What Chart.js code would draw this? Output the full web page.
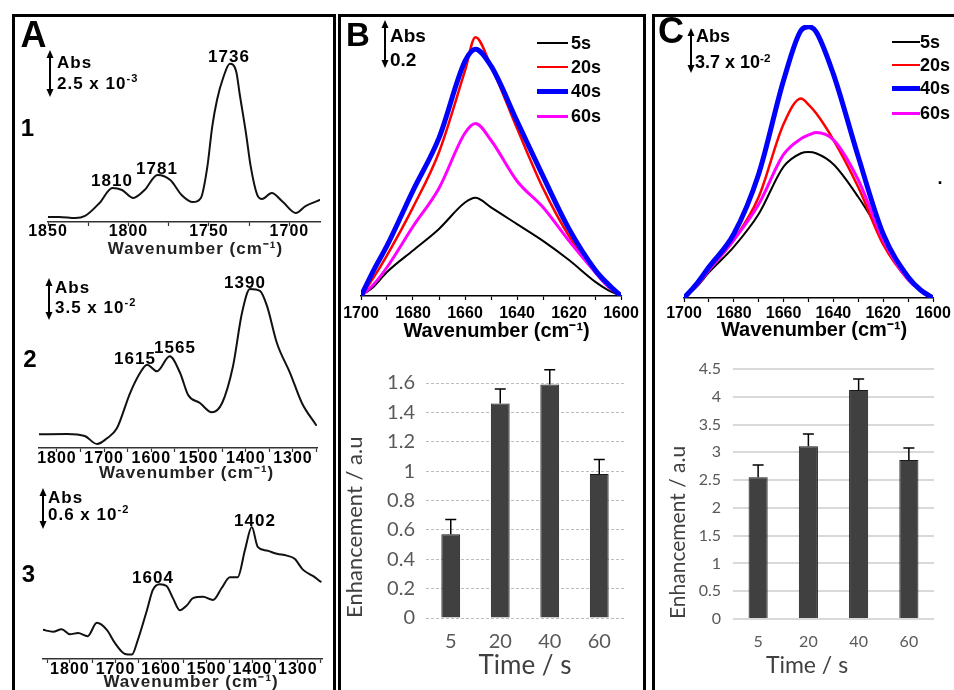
<!DOCTYPE html>
<html>
<head>
<meta charset="utf-8">
<title>IR spectra and enhancement</title>
<script src="https://cdn.jsdelivr.net/npm/chart.js@4.4.1/dist/chart.umd.min.js"></script>
<style>
  html, body { margin: 0; padding: 0; background: #fff; }
  #fig { position: relative; width: 954px; height: 690px; overflow: hidden; font-family: Arial, "Liberation Sans", sans-serif; color: #000; }
  .box { position: absolute; }
  .lbl { position: absolute; font-weight: bold; white-space: nowrap; line-height: 1; }
  .lbl sup { font-size: 0.65em; vertical-align: 0.55em; line-height: 0; }
  #ink { position: absolute; left: 0; top: 0; z-index: 2; }
</style>
</head>
<body>
<div id="fig">
  <svg id="ink" width="954" height="690"></svg>
</div>
<script>
// ---------- data ----------
// Panel A, spectrum 1 (Abs, 10^-3)
const a1Wavenumber = [1850, 1843, 1833, 1827, 1818, 1810, 1804, 1797, 1790, 1782, 1774, 1767, 1760, 1755, 1751,
  1748, 1745, 1741, 1737, 1733, 1731, 1727, 1724, 1720, 1717, 1711, 1704, 1696, 1690, 1681];
const a1Abs = [0.27, 0.27, 0.21, 0.32, 1.01, 1.81, 1.70, 1.28, 1.70, 2.50, 2.23, 1.44, 1.06, 1.28, 2.93,
  5.05, 6.49, 7.71, 8.41, 7.98, 6.86, 4.73, 2.93, 1.44, 1.22, 1.54, 1.06, 0.48, 0.85, 1.17];

// Panel A, spectrum 2 (Abs, 10^-2)
const a2Wavenumber = [1838, 1779, 1741, 1715, 1694, 1673, 1645, 1624, 1609, 1588, 1561, 1539, 1522, 1497, 1472,
  1450, 1427, 1408, 1391, 1370, 1355, 1334, 1306, 1281, 1251];
const a2Abs = [1.20, 1.23, 1.05, 0.35, 0.85, 1.72, 4.81, 6.56, 7.29, 6.71, 8.02, 6.56, 4.64, 3.94, 3.12,
  3.94, 7.15, 11.81, 13.91, 13.74, 12.43, 9.19, 6.56, 3.94, 2.01];

// Panel A, spectrum 3 (Abs, 10^-2)
const a3Wavenumber = [1859, 1837, 1818, 1800, 1782, 1761, 1741, 1719, 1701, 1679, 1664, 1651, 1631, 1618, 1603,
  1588, 1574, 1559, 1543, 1530, 1508, 1486, 1467, 1449, 1432, 1416, 1401, 1388, 1368, 1346, 1324, 1307, 1289, 1267, 1250];
const a3Abs = [0.46, 0.43, 0.47, 0.39, 0.41, 0.36, 0.57, 0.46, 0.25, 0.08, 0.07, 0.30, 0.77, 1.09, 1.18,
  1.15, 0.96, 0.77, 0.85, 0.96, 0.98, 0.93, 1.12, 1.29, 1.29, 1.72, 2.08, 1.77, 1.71, 1.66, 1.63, 1.58, 1.41, 1.31, 1.22];

// Panel B spectra (Abs)
const bWavenumber = [1700, 1695, 1690, 1680, 1670, 1660, 1656, 1650, 1640, 1630, 1620, 1610, 1605, 1600];
const b5s  = [0, 0.04, 0.10, 0.19, 0.28, 0.39, 0.41, 0.37, 0.30, 0.23, 0.15, 0.06, 0.025, 0];
const b20s = [0, 0.08, 0.17, 0.37, 0.60, 0.94, 1.08, 0.96, 0.70, 0.45, 0.25, 0.10, 0.04, 0];
const b40s = [0, 0.11, 0.21, 0.44, 0.66, 0.98, 1.03, 0.96, 0.73, 0.50, 0.28, 0.11, 0.05, 0];
const b60s = [0, 0.05, 0.12, 0.29, 0.45, 0.68, 0.72, 0.65, 0.48, 0.37, 0.23, 0.10, 0.04, 0];

// Panel C spectra (Abs, 10^-2)
const cWavenumber = [1700, 1695, 1690, 1680, 1670, 1660, 1653, 1650, 1647, 1640, 1630, 1620, 1610, 1605, 1600];
const c5s  = [0, 0.9, 2.1, 4.2, 6.9, 10.8, 11.9, 12.0, 11.9, 11.0, 8.3, 5.0, 1.7, 0.74, 0];
const c20s = [0, 1.0, 2.3, 4.77, 8.3, 14.3, 16.4, 15.9, 15.2, 13.0, 9.1, 4.4, 1.5, 0.66, 0];
const c40s = [0, 1.15, 2.55, 5.26, 10.2, 17.9, 22.0, 22.3, 21.9, 18.4, 11.6, 5.26, 1.73, 0.66, 0];
const c60s = [0, 1.0, 2.3, 4.77, 7.7, 11.8, 13.1, 13.4, 13.6, 13.0, 9.7, 4.77, 1.5, 0.66, 0];

const seriesNames = ['5s', '20s', '40s', '60s'];
const seriesColors = ['#000000', '#ff0000', '#0000ff', '#ff00ff'];
const bWidths = [2, 2.5, 5, 3];
const cWidths = [2, 2.5, 5, 3];

// enhancement bars
const timeLabels = ['5', '20', '40', '60'];
const bEnhancement = [0.57, 1.46, 1.59, 0.98];
const bError = [0.10, 0.10, 0.10, 0.10];
const cEnhancement = [2.55, 3.11, 4.12, 2.86];
const cError = [0.22, 0.22, 0.20, 0.22];

// ---------- helpers ----------
Chart.defaults.font.family = 'Arial, "Liberation Sans", sans-serif';
const fig = document.getElementById('fig');
const ink = document.getElementById('ink');
const NS = 'http://www.w3.org/2000/svg';
const calibri = 'Lato, "Open Sans", sans-serif';

function box(left, top, width, height) {
  const d = document.createElement('div');
  d.className = 'box';
  Object.assign(d.style, {left: left + 'px', top: top + 'px', width: width + 'px', height: height + 'px'});
  const c = document.createElement('canvas');
  d.appendChild(c);
  fig.appendChild(d);
  return c;
}

const pts = (xs, ys) => xs.map((x, i) => ({x: x, y: ys[i]}));
const spacing = px => ({id: 'spacing', beforeDraw: chart => { chart.ctx.letterSpacing = px; }});

function spectrum(o) {
  const [l, t, r, b] = o.area;
  const pad = {left: 26, right: 26, top: 4, bottom: 0};
  const canvas = box(l - pad.left, t - pad.top, r - l + pad.left + pad.right, b - t + pad.top + o.axisH);
  return new Chart(canvas, {
    type: 'line',
    data: {datasets: o.datasets},
    options: {
      responsive: true, maintainAspectRatio: false, animation: false, events: [],
      layout: {padding: pad, autoPadding: false},
      plugins: {legend: {display: false}, tooltip: {enabled: false}},
      elements: {point: {radius: 0}, line: {cubicInterpolationMode: 'monotone', borderJoinStyle: 'round', borderCapStyle: 'round'}},
      scales: {
        x: {
          type: 'linear', reverse: true, min: o.xMin, max: o.xMax,
          afterFit: s => { s.height = o.axisH; s.paddingLeft = 0; s.paddingRight = 0; },
          border: {display: true, color: o.axisColor, width: 1.5},
          grid: {drawOnChartArea: false, tickLength: 4, color: o.axisColor, tickWidth: 1.2},
          ticks: {
            stepSize: o.step, includeBounds: false, autoSkip: false, maxRotation: 0, padding: o.tickPad, color: '#000',
            font: {size: o.tickSize, weight: 'bold', lineHeight: 1},
            callback: v => (v % o.every === 0 ? String(v) : '')
          },
          title: {display: true, text: o.title, color: o.titleColor, padding: 0,
                  font: {size: o.titleSize, weight: 'bold', lineHeight: 1}}
        },
        y: {display: false, min: 0, max: o.yMax}
      }
    },
    plugins: o.letter ? [spacing(o.letter)] : []
  });
}

const errorBars = {
  id: 'errorBars',
  afterDatasetsDraw(chart) {
    const ctx = chart.ctx, y = chart.scales.y;
    chart.data.datasets.forEach((ds, i) => {
      chart.getDatasetMeta(i).data.forEach((bar, j) => {
        const top = y.getPixelForValue(ds.data[j] + ds.errors[j]);
        ctx.save();
        ctx.strokeStyle = '#000';
        ctx.lineWidth = 1.5;
        ctx.beginPath();
        ctx.moveTo(bar.x, bar.y);
        ctx.lineTo(bar.x, top);
        ctx.moveTo(bar.x - 5.5, top);
        ctx.lineTo(bar.x + 5.5, top);
        ctx.stroke();
        ctx.restore();
      });
    });
  }
};

function enhancement(o) {
  const [l, t, r, b] = o.area;
  const canvas = box(o.left, o.top, r - o.left + 8, o.bottom - o.top);
  return new Chart(canvas, {
    type: 'bar',
    data: {
      labels: timeLabels,
      datasets: [{data: o.values, errors: o.errors, backgroundColor: '#404040', borderColor: '#1a1a1a',
                  borderWidth: 1, barPercentage: 0.38, categoryPercentage: 1}]
    },
    options: {
      responsive: true, maintainAspectRatio: false, animation: false, events: [],
      layout: {padding: {left: 0, right: 8, top: t - o.top, bottom: 0}, autoPadding: false},
      plugins: {legend: {display: false}, tooltip: {enabled: false}},
      scales: {
        x: {
          afterFit: s => { s.height = o.bottom - b; s.paddingLeft = 0; s.paddingRight = 0; },
          grid: {display: false, drawTicks: false}, border: {display: false},
          ticks: {color: '#595959', padding: o.xPad, font: {family: calibri, size: o.tickSize}},
          title: {display: true, text: o.xTitle, color: '#404040', padding: 0, font: {family: calibri, size: o.xTitleSize}}
        },
        y: {
          min: 0, max: o.max,
          afterFit: s => { s.width = l - o.left; s.paddingTop = 0; s.paddingBottom = 0; },
          grid: {color: o.gridColor, lineWidth: o.gridWidth, drawTicks: false},
          border: {display: false, dash: o.dash},
          ticks: {stepSize: o.step, color: '#595959', padding: o.yPad, font: {family: calibri, size: o.tickSize},
                  format: {minimumFractionDigits: 0, maximumFractionDigits: 1}},
          title: {display: true, text: 'Enhancement / a.u', align: 'start', color: '#404040',
                  padding: {top: o.yTitlePad, bottom: 0}, font: {family: calibri, size: o.yTitleSize}}
        }
      }
    },
    plugins: [errorBars]
  });
}

function note(html, x, y, size, anchor, extra) {
  const d = document.createElement('div');
  d.className = 'lbl';
  d.innerHTML = html;
  d.style.left = x + 'px';
  d.style.top = y + 'px';
  d.style.fontSize = size + 'px';
  d.style.transform = anchor === 'left' ? 'translateY(-50%)' : 'translate(-50%,-50%)';
  if (extra) Object.assign(d.style, extra);
  fig.appendChild(d);
}

function svg(tag, attrs) {
  const e = document.createElementNS(NS, tag);
  for (const k in attrs) e.setAttribute(k, attrs[k]);
  ink.appendChild(e);
}

function scaleArrow(x, y1, y2) {
  svg('line', {x1: x, y1: y1 + 6, x2: x, y2: y2 - 6, stroke: '#000', 'stroke-width': 2});
  svg('polygon', {points: `${x},${y1} ${x - 3.5},${y1 + 8} ${x + 3.5},${y1 + 8}`, fill: '#000'});
  svg('polygon', {points: `${x},${y2} ${x - 3.5},${y2 - 8} ${x + 3.5},${y2 - 8}`, fill: '#000'});
}

function legend(x1, x2, tx, rows, widths, size) {
  seriesNames.forEach((name, i) => {
    const line = document.createElement('div');
    line.style.cssText = `position:absolute;left:${x1}px;width:${x2 - x1}px;top:${rows[i] - widths[i] / 2}px;` +
      `height:${widths[i]}px;background:${seriesColors[i]}`;
    fig.appendChild(line);
    note(name, tx, rows[i], size, 'left');
  });
}

function seriesSets(xs, ys, widths) {
  const order = [3, 2, 0, 1];
  return ys.map((y, i) => ({data: pts(xs, y), borderColor: seriesColors[i], borderWidth: widths[i], order: order[i]}));
}

// ---------- frames ----------
svg('path', {d: 'M13.5 700 V15.5 H334.5 V700', fill: 'none', stroke: '#000', 'stroke-width': 3});
svg('path', {d: 'M339.5 700 V15.5 H644.5 V700', fill: 'none', stroke: '#000', 'stroke-width': 3});
svg('path', {d: 'M653.5 700 V15.5 H960', fill: 'none', stroke: '#000', 'stroke-width': 3});

// ---------- panel A ----------
const wn = 'Wavenumber (cm\u207B\u00B9)';
const aStyle = {every: 0, axisColor: '#333', titleColor: '#222', tickSize: 16, titleSize: 17, letter: '1px'};
const aLine = ys => [{data: ys, borderColor: '#111', borderWidth: 2}];

spectrum(Object.assign({}, aStyle, {
  area: [48, 55, 320, 222], axisH: 36, xMin: 1681, xMax: 1850, yMax: 8.88,
  step: 25, every: 50, tickPad: -2, title: '    ' + wn, datasets: aLine(pts(a1Wavenumber, a1Abs))
}));
spectrum(Object.assign({}, aStyle, {
  area: [39, 280, 317, 448], axisH: 34, xMin: 1249, xMax: 1838, yMax: 14.7,
  step: 50, every: 100, tickPad: -1, title: '   ' + wn, datasets: aLine(pts(a2Wavenumber, a2Abs))
}));
spectrum(Object.assign({}, aStyle, {
  area: [43, 510, 322, 659], axisH: 32, xMin: 1247, xMax: 1859, yMax: 2.35,
  step: 50, every: 100, tickPad: -1, title: '   ' + wn, datasets: aLine(pts(a3Wavenumber, a3Abs))
}));

// ---------- panel B ----------
spectrum({
  area: [361, 30, 621, 296], axisH: 45, xMin: 1600, xMax: 1700, yMax: 1.11,
  step: 10, every: 20, tickPad: 5.5, tickSize: 16, titleSize: 20, axisColor: '#000', titleColor: '#000',
  title: '  ' + wn, datasets: seriesSets(bWavenumber, [b5s, b20s, b40s, b60s], bWidths)
});
enhancement({
  left: 340, top: 350, bottom: 681, area: [426, 383, 624, 618],
  values: bEnhancement, errors: bError, max: 1.6, step: 0.2,
  tickSize: 20, xTitle: 'Time / s', xTitleSize: 26, xPad: 12, yPad: 11, yTitlePad: 2, yTitleSize: 22,
  gridColor: '#bdbdbd', gridWidth: 1, dash: [3, 2]
});

// ---------- panel C ----------
spectrum({
  area: [684, 25, 933, 298], axisH: 42, xMin: 1600, xMax: 1700, yMax: 22.44,
  step: 10, every: 20, tickPad: 4, tickSize: 16, titleSize: 20, axisColor: '#000', titleColor: '#000',
  title: '  ' + wn, datasets: seriesSets(cWavenumber, [c5s, c20s, c40s, c60s], cWidths)
});
enhancement({
  left: 655, top: 340, bottom: 679, area: [733, 369, 934, 619],
  values: cEnhancement, errors: cError, max: 4.5, step: 0.5,
  tickSize: 16, xTitle: 'Time / s         ', xTitleSize: 23, xPad: 13, yPad: 12, yTitlePad: 11, yTitleSize: 21,
  gridColor: '#d9d9d9', gridWidth: 2, dash: []
});

// ---------- annotations ----------
const sp = {letterSpacing: '1px'};
note('A', 33.5, 35, 36);
note('1', 27.5, 128, 24);
note('2', 30, 359, 24);
note('3', 28.5, 574, 24);
note('B', 358, 34, 33);
note('C', 671, 31, 36);

note('1736', 229, 56, 17, 'c', sp);
note('1810', 112, 180, 17, 'c', sp);
note('1781', 157, 168, 17, 'c', sp);
note('1390', 245, 282, 17, 'c', sp);
note('1615', 135, 358, 17, 'c', sp);
note('1565', 175, 347, 17, 'c', sp);
note('1604', 153, 577, 17, 'c', sp);
note('1402', 255, 520, 17, 'c', sp);

scaleArrow(50, 50, 97);
note('Abs', 57, 62, 17, 'left', sp);
note('2.5 x 10<sup>-3</sup>', 57, 83, 17, 'left', sp);
scaleArrow(49, 278, 320);
note('Abs', 55, 287, 17, 'left', sp);
note('3.5 x 10<sup>-2</sup>', 55, 307, 17, 'left', sp);
scaleArrow(43, 488, 529);
note('Abs', 48, 497, 17, 'left', sp);
note('0.6 x 10<sup>-2</sup>', 48, 514, 17, 'left', sp);

scaleArrow(385, 20, 68);
note('Abs', 390, 35, 19, 'left');
note('0.2', 390, 59, 19, 'left');
scaleArrow(691, 28, 73);
note('Abs', 696, 36, 18, 'left');
note('3.7 x 10<sup>-2</sup>', 695, 62, 18, 'left');

legend(537, 568, 571, [43, 67, 91, 116], bWidths, 18);
legend(892, 920, 920, [42, 65, 88, 113], cWidths, 18);

note('.', 940, 178, 18);
</script>
</body>
</html>
